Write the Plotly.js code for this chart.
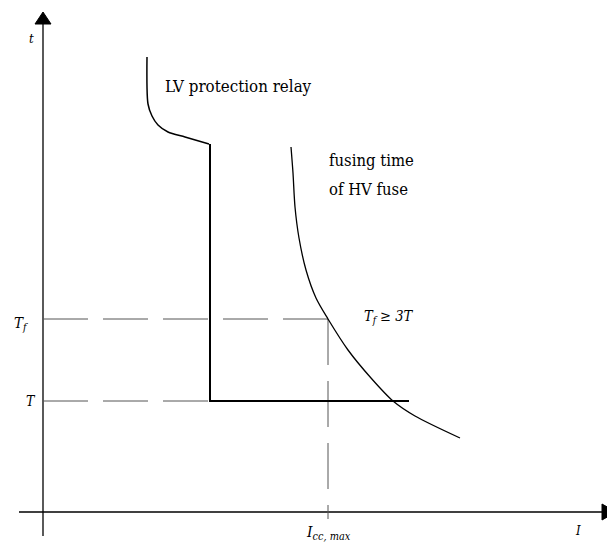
<!DOCTYPE html>
<html><head><meta charset="utf-8">
<script src="https://cdn.plot.ly/plotly-3.0.1.min.js"></script>
<style>html,body{margin:0;padding:0;background:#fff}#chart{width:607px;height:544px}</style>
</head><body><div id="chart"></div>
<script>
// schematic values (arbitrary units of current I and time t)
const relayI = [1.04, 1.05, 1.09, 1.15, 1.25, 1.42, 1.66];
const relayT = [4.55, 4.08, 3.96, 3.87, 3.80, 3.75, 3.68];
const relayStepI = [1.67, 1.67, 3.66];
const relayStepT = [3.68, 1.11, 1.11];
const fuseI = [2.48, 2.50, 2.52, 2.56, 2.63, 2.73, 2.85, 3.05, 3.28, 3.50, 3.72, 4.17];
const fuseT = [3.65, 3.39, 3.05, 2.74, 2.42, 2.14, 1.93, 1.62, 1.34, 1.11, 0.96, 0.74];
const Tf = 1.93, T = 1.11, Icc = 2.85;
const axisIMin = -0.24, axisIMax = 5.60, axisTMin = -0.24, axisTMax = 4.88;

const serif = "DejaVu Serif Condensed, DejaVu Serif, serif";
const traces = [
  {x:[0,0], y:[axisTMin, axisTMax], mode:'lines', line:{color:'#000', width:1.3}},
  {x:[axisIMin, axisIMax], y:[0,0], mode:'lines', line:{color:'#000', width:1.3}},
  {x:[-0.08, 0, 0.08, -0.08], y:[4.88, 5.00, 4.88, 4.88], mode:'lines', fill:'toself', fillcolor:'#000', line:{color:'#000', width:1}},
  {x:[5.59, 5.73, 5.59, 5.59], y:[0.08, 0, -0.08, 0.08], mode:'lines', fill:'toself', fillcolor:'#000', line:{color:'#000', width:1}},
  {x:[0, Icc], y:[Tf, Tf], mode:'lines', line:{color:'#555', width:1, dash:'45px,15px'}},
  {x:[Icc, Icc], y:[Tf, -0.07], mode:'lines', line:{color:'#555', width:1, dash:'46px,16px'}},
  {x:[0, 1.67], y:[T, T], mode:'lines', line:{color:'#555', width:1, dash:'45px,15px'}},
  {x:relayI, y:relayT, mode:'lines', line:{color:'#000', width:1.5, shape:'spline', smoothing:0.8}},
  {x:relayStepI, y:relayStepT, mode:'lines', line:{color:'#000', width:2}},
  {x:fuseI, y:fuseT, mode:'lines', line:{color:'#000', width:1.3, shape:'spline', smoothing:0.8}}
];

const ann = (x, y, text, size, opts) => Object.assign({x, y, xref:'x', yref:'y', text, showarrow:false,
  font:{family:serif, size:size, color:'#000'}}, opts||{});

const layout = {
  width:607, height:544, margin:{l:0,r:0,t:0,b:0},
  font:{family:serif, color:'#000'},
  paper_bgcolor:'#fff', plot_bgcolor:'#fff', showlegend:false,
  xaxis:{range:[-0.43, 5.64], visible:false, fixedrange:true},
  yaxis:{range:[-0.32, 5.12], visible:false, fixedrange:true},
  annotations:[
    ann(-0.12, 4.74, '<i>t</i>', 13),
    ann(1.20, 4.26, 'LV protection relay', 16.8, {xanchor:'left'}),
    ann(2.84, 3.52, 'fusing time', 16.5, {xanchor:'left'}),
    ann(2.84, 3.23, 'of HV fuse', 16.5, {xanchor:'left'}),
    ann(-0.31, 1.89, '<i>T<sub>f</sub></i>', 15, {xanchor:'left'}),
    ann(-0.19, 1.11, '<i>T</i>', 14, {xanchor:'left'}),
    ann(3.19, 1.95, '<i>T<sub>f</sub> ≥ 3T</i>', 14.5, {xanchor:'left'}),
    ann(Icc, -0.21, '<i>I<sub>cc, max</sub></i>', 15.5),
    ann(5.35, -0.18, '<i>I</i>', 13)
  ]
};
Plotly.newPlot('chart', traces, layout, {staticPlot:true, displayModeBar:false});
</script></body></html>
